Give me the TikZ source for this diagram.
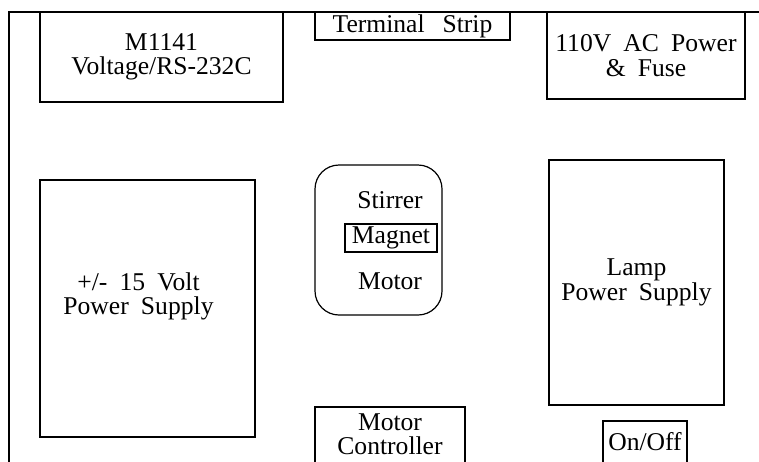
\documentclass[tikz,border=0pt]{standalone}
\usepackage{fontspec}
\setmainfont[WordSpace=1.9]{Liberation Serif}
\usetikzlibrary{positioning,calc}

\begin{document}
\begin{tikzpicture}[x=1pt,y=-1pt,line width=1.2pt,
    lbl/.style={align=center,inner sep=0pt,font=\fontsize{25.6pt}{24.5pt}\selectfont},
    box/.style={lbl,draw}]
    \useasboundingbox (0,0) rectangle (759,461);
    \clip (0,0) rectangle (759,461);
    % chassis outline
    \draw (9,470) |- (770,12);
    % top row
    \node[box,minimum width=243pt,minimum height=90pt] (volt) at (161.5,57) {M1141\\Voltage/RS-232C};
    \node[box,minimum width=195pt,minimum height=28pt] (term) at (412.5,26) {Terminal\hspace{0.7em}Strip};
    \node[box,minimum width=198pt,minimum height=87pt] (acpow) at (646,55.5) {110V AC Power\\\& Fuse};
    % middle row
    \node[box,minimum width=215pt,minimum height=257pt] (psu) at (147.5,308.5) {};
    \node[lbl] (psutxt) at ($(psu)+(-9,-12)$) {+/- 15 Volt\\Power Supply};
    \node[box,rounded corners=24pt,minimum width=127pt,minimum height=150pt] (stir) at (378.5,240) {};
    \node[box,minimum width=92pt,minimum height=28pt] (mag) at (391,238) {Magnet};
    \node[lbl] (stirtxt) at (390,200) {Stirrer};
    \node[lbl] (motxt) at (390,281) {Motor};
    \node[box,minimum width=175pt,minimum height=245pt] (lamp) at (636.5,282.5) {Lamp\\Power Supply};
    % bottom row, open below
    \node[lbl] (ctrl) at (390,434) {Motor\\Controller};
    \draw (315,470) |- (465,407) -- (465,470);
    \node[lbl] (onoff) at (645,442) {On/Off};
    \draw (603,470) |- (687,421) -- (687,470);
\end{tikzpicture}
\end{document}
